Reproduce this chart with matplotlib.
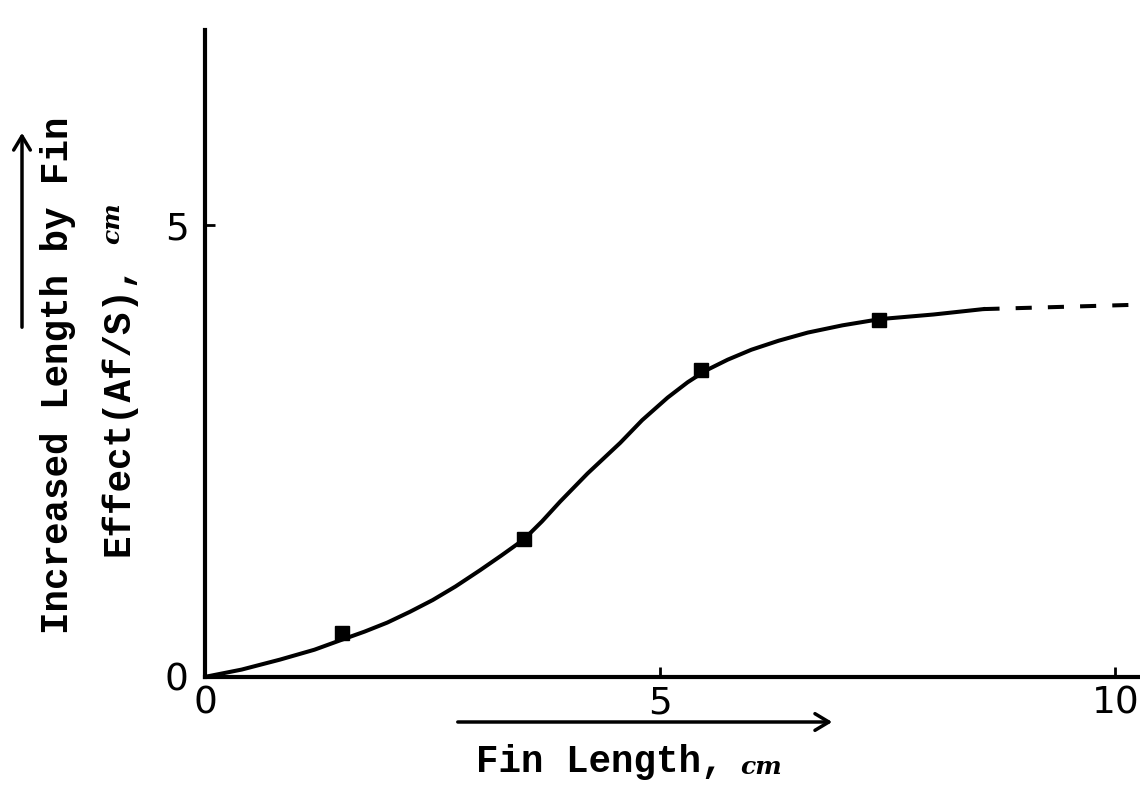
import matplotlib
matplotlib.use("Agg")
import matplotlib.pyplot as plt
from matplotlib.patches import FancyArrowPatch

# measured points (squares)
fin_len = [1.5, 3.5, 5.45, 7.4]
incr_len = [0.49, 1.53, 3.40, 3.95]

# smooth curve
curve_x = [0, 0.4, 0.82, 1.2, 1.5, 1.75, 2.0, 2.25, 2.5, 2.75, 3.02, 3.25,
           3.5, 3.7, 3.9, 4.2, 4.56, 4.8, 5.08, 5.3, 5.5, 5.74, 6.0, 6.3,
           6.62, 7.0, 7.42, 8.0, 8.55]
curve_y = [0, 0.08, 0.19, 0.30, 0.41, 0.50, 0.60, 0.72, 0.85, 1.00, 1.18,
           1.34, 1.52, 1.72, 1.94, 2.25, 2.59, 2.84, 3.09, 3.26, 3.39, 3.51,
           3.62, 3.72, 3.81, 3.89, 3.96, 4.01, 4.07]
# dashed extrapolation
dash_x = [8.55, 10.3]
dash_y = [4.07, 4.12]

xticks = [0, 5, 10]
yticks = [0, 5]

fig = plt.figure(figsize=(11.4, 7.87), dpi=100)
ax = fig.add_axes([0.18, 0.14, 0.82, 0.822])

ax.plot(curve_x, curve_y, color="black", lw=2.9, solid_joinstyle="round")
ax.plot(dash_x, dash_y, color="black", lw=2.9, dashes=(4, 4))
ax.plot(fin_len, incr_len, "s", color="black", ms=10)

ax.set_xlim(0, 10.27)
ax.set_ylim(0, 7.16)
for s in ["top", "right"]:
    ax.spines[s].set_visible(False)
for s in ["left", "bottom"]:
    ax.spines[s].set_linewidth(3)

ax.set_xticks(xticks)
ax.set_yticks(yticks)
ax.tick_params(direction="in", length=7, width=2, labelsize=27)
ax.tick_params(axis="y", pad=12)
ax.tick_params(axis="x", pad=6)
ax.set_xticklabels([str(t) for t in xticks])
ax.set_yticklabels([str(t) for t in yticks])

mono = dict(family="Liberation Mono", weight="bold", fontsize=27)
unit = dict(family="DejaVu Serif", style="italic", weight="bold", fontsize=18)

# x axis title with arrow
xt = fig.text(600 / 1140, 1 - 762 / 787, "Fin Length,", ha="center",
              va="center", **mono)
ax.annotate("cm", xy=(1, 0.35), xycoords=xt, xytext=(12, 0),
            textcoords="offset points", ha="left", va="center", **unit)
fig.patches.append(FancyArrowPatch(
    (455 / 1140, 1 - 722 / 787), (835 / 1140, 1 - 722 / 787),
    transform=fig.transFigure, arrowstyle="->,head_length=10,head_width=6",
    lw=2.5, color="black"))

# y axis title, two lines + arrow
fig.text(58 / 1140, 1 - 375 / 787, "Increased Length by Fin", rotation=90,
         ha="center", va="center", **mono)
yt = fig.text(118 / 1140, 1 - 410 / 787, "Effect(Af/S),", rotation=90,
              ha="center", va="center", **mono)
ax.annotate("cm", xy=(0.35, 1), xycoords=yt, xytext=(0, 14),
            textcoords="offset points", ha="center", va="bottom",
            rotation=90, **unit)
fig.patches.append(FancyArrowPatch(
    (22 / 1140, 1 - 330 / 787), (22 / 1140, 1 - 130 / 787),
    transform=fig.transFigure, arrowstyle="->,head_length=10,head_width=6",
    lw=2.5, color="black"))

fig.savefig("out.png", dpi=100)
